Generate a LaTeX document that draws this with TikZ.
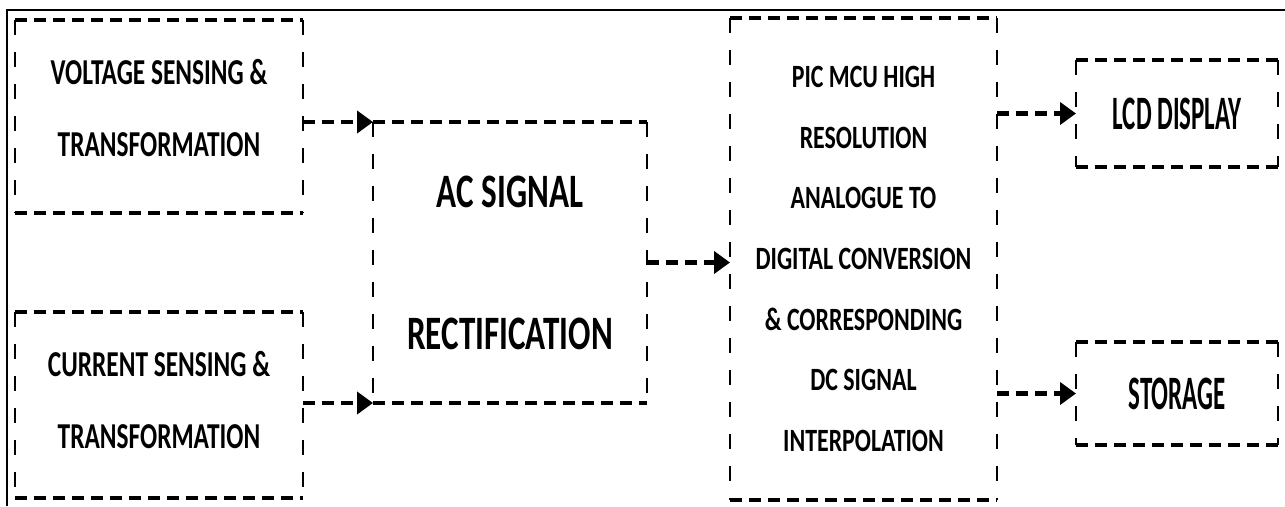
\documentclass[tikz,border=0pt]{standalone}
\usepackage{fontspec}
\usetikzlibrary{arrows.meta}
\newfontfamily\boxfont[FakeStretch=0.735]{Carlito Bold}
\newfontfamily\inboxfont[FakeStretch=0.695]{Carlito Bold}
\newfontfamily\outboxfont[FakeStretch=0.52]{Carlito Bold}
\newfontfamily\bigboxfont[FakeStretch=0.69]{Carlito Bold}
\begin{document}
\begin{tikzpicture}[x=1pt,y=-1pt,
  blk/.style={rectangle,inner sep=0pt,outer sep=0pt,align=center,text=black},
  small/.style={font=\inboxfont\fontsize{36.5}{72}\selectfont},
  outtxt/.style={font=\outboxfont\fontsize{48}{60}\selectfont},
  mid/.style={font=\boxfont\fontsize{32.5}{60.7}\selectfont},
  big/.style={font=\bigboxfont\fontsize{48}{142}\selectfont},
  hdash/.style={line width=4.5pt,dash pattern=on 12pt off 7pt,black},
  vdash/.style={line width=2.8pt,dash pattern=on 15pt off 17pt,black},
  conn/.style={hdash,-{Triangle[length=16pt,width=22pt]}},
  frame/.style={line width=1.2pt,black}]
\useasboundingbox (0,0) rectangle (1285,506);
% outer frame (top and left edges visible)
\draw[frame] (1285,10) -- (7,10) -- (7,506);
% blocks
\node[blk,small,minimum width=288pt,minimum height=193pt,text depth=18pt] (V) at (159,116.5)
  {VOLTAGE SENSING \&\\TRANSFORMATION};
\node[blk,small,minimum width=288pt,minimum height=186pt,text depth=10pt] (C) at (159,405)
  {CURRENT SENSING \&\\TRANSFORMATION};
\node[blk,big,minimum width=274pt,minimum height=281pt] (AC) at (510,262.5)
  {AC SIGNAL\\RECTIFICATION};
\node[blk,mid,minimum width=267pt,minimum height=482pt] (MCU) at (863.5,259)
  {PIC MCU HIGH\\RESOLUTION\\ANALOGUE TO\\DIGITAL CONVERSION\\\& CORRESPONDING\\DC SIGNAL\\INTERPOLATION};
\node[blk,outtxt,minimum width=202pt,minimum height=107pt] (LCD) at (1177,113.5)
  {LCD DISPLAY};
\node[blk,outtxt,minimum width=202pt,minimum height=103pt] (ST) at (1177,393.5)
  {STORAGE};
% dashed outlines
\foreach \n in {V,C,AC,MCU,LCD,ST}{
  \draw[hdash] (\n.north west) -- (\n.north east) (\n.south west) -- (\n.south east);
  \draw[vdash] (\n.north west) -- (\n.south west) (\n.north east) -- (\n.south east);
}
% connectors
\draw[conn] (V.east |- AC.north west) -- (AC.north west);
\draw[conn] (C.east |- AC.south west) -- (AC.south west);
\draw[conn] (AC.east) -- (AC.east -| MCU.west);
\draw[conn] (MCU.east |- LCD.west) -- (LCD.west);
\draw[conn] (MCU.east |- ST.west) -- (ST.west);
\end{tikzpicture}
\end{document}
